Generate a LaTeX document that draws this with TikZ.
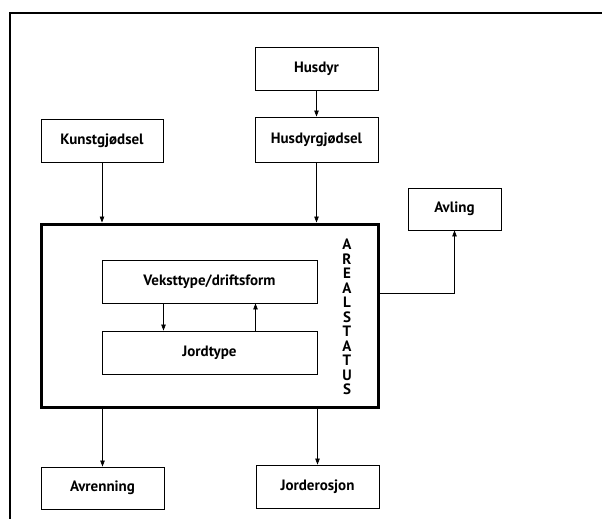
\documentclass[tikz,border=0pt]{standalone}
\usepackage{fontspec}
\setmainfont{PT Sans}
\usetikzlibrary{arrows.meta}
\begin{document}
\begin{tikzpicture}[x=1pt, y=-1pt,
  boks/.style = {draw, line width=0.9pt, inner sep=0pt, font=\bfseries\fontsize{15}{17}\selectfont},
  pil/.style = {line width=0.7pt, -{Triangle[length=6pt, width=4.5pt]}}]
\useasboundingbox (0,0) rectangle (602,519);
\clip (0,0) rectangle (602,519);
% ramme rundt hele figuren
\draw[line width=2pt] (10,540) -- (10,13) -- (620,13);
% kildene oppe
\node[boks, minimum width=123pt, minimum height=43pt] (husdyr) at (316.5,68.5) {Husdyr};
\node[boks, minimum width=123pt, minimum height=45pt] (gjodsel) at (316.5,139.5) {Husdyrgjødsel};
\node[boks, minimum width=122pt, minimum height=43pt] (kunst) at (102,140.5) {Kunstgjødsel};
\node[boks, minimum width=93pt, minimum height=42pt] (avling) at (454.5,209) {Avling};
% arealstatus med innhold
\node[draw, line width=3pt, minimum width=337pt, minimum height=183pt] (areal) at (209.5,315.5) {};
\node[boks, minimum width=215pt, minimum height=43pt] (vekst) at (209.5,281.5) {Veksttype/driftsform};
\node[boks, minimum width=215pt, minimum height=43pt] (jord) at (209.5,352.5) {Jordtype};
\node[font=\bfseries\fontsize{15}{14.5}\selectfont, align=center, inner sep=0pt] (status) at (347,317)
  {A\\R\\E\\A\\L\\S\\T\\A\\T\\U\\S};
% virkninger nede
\node[boks, minimum width=123pt, minimum height=42pt] (avrenning) at (102.5,488) {Avrenning};
\node[boks, minimum width=123pt, minimum height=43pt] (erosjon) at (317.5,486.5) {Jorderosjon};
% piler
\draw[pil] (husdyr) -- (gjodsel);
\draw[pil] (kunst) -- (kunst |- areal.north);
\draw[pil] (gjodsel.south) -- (gjodsel.south |- areal.north);
\draw[pil] ([xshift=-46pt]vekst.south) -- ([xshift=-46pt]jord.north);
\draw[pil] ([xshift=46pt]jord.north) -- ([xshift=46pt]vekst.south);
\draw[pil] (avrenning |- areal.south) -- (avrenning);
\draw[pil] (erosjon |- areal.south) -- (erosjon);
\draw[pil] ([yshift=22.5pt]areal.east) -| (avling);
\end{tikzpicture}
\end{document}
